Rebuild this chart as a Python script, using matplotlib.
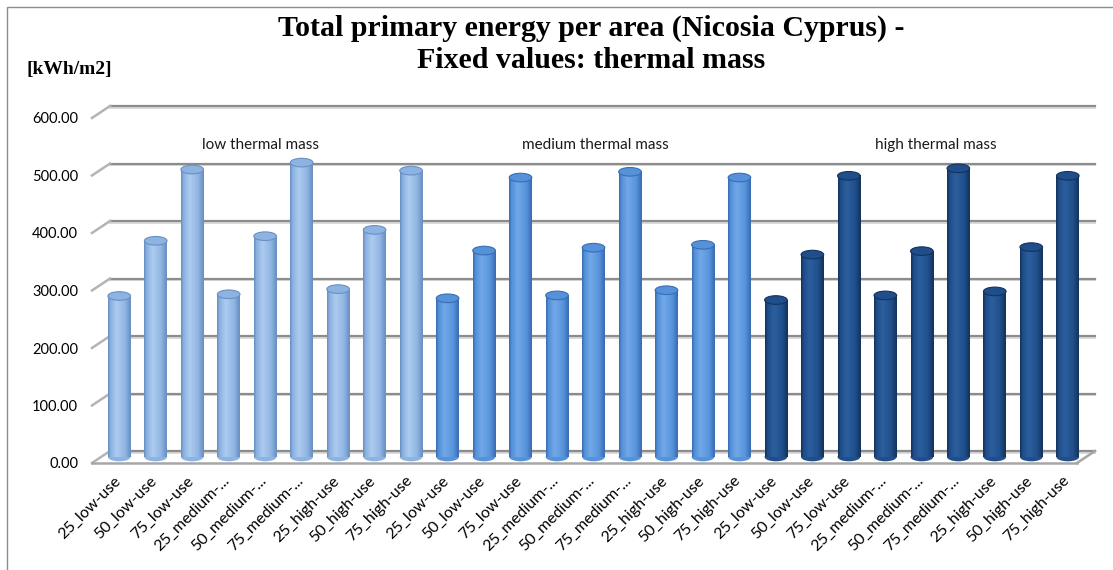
import matplotlib
matplotlib.use("Agg")
import matplotlib.pyplot as plt
import matplotlib.transforms as mtransforms
from matplotlib.patches import Ellipse, Rectangle
import numpy as np

# categories (same 9 cases repeated for each thermal mass level)
cases = ["25_low-use", "50_low-use", "75_low-use",
         "25_medium-...", "50_medium-...", "75_medium-...",
         "25_high-use", "50_high-use", "75_high-use"]
groups = ["low thermal mass", "medium thermal mass", "high thermal mass"]

# total primary energy per area [kWh/m2]
low_mass = [280, 376, 500, 283, 384, 512, 292, 395, 498]
medium_mass = [276, 359, 486, 281, 364, 496, 290, 369, 486]
high_mass = [273, 352, 489, 281, 358, 502, 288, 365, 489]

yticks = [0, 100, 200, 300, 400, 500, 600]

# cylinder colours: (edge shade, body, highlight)
group_colors = [("#6A90C2", "#8DB3E2", "#ADCBEF"),
                ("#3A6DB3", "#5592DA", "#72A8E8"),
                ("#14335C", "#1F4E8A", "#2C5F9F")]

fig = plt.figure(figsize=(11.13, 5.70), dpi=100)
ax = fig.add_axes([101 / 1113, 113 / 570, 985 / 1113, 345 / 570])
ax.set_xlim(-0.5, 26.5)
ax.set_ylim(0, 600)

# depth of the 3d box, half of it in front of / behind the bars (data units)
DX = 0.247
DY = 10.4

for s in ax.spines.values():
    s.set_visible(False)

# back wall grid + left side wall
for v in yticks:
    ax.plot([-0.5 + DX, 26.5 + DX], [v + DY - 2.6, v + DY - 2.6], color="#D9D9D9", lw=1.4, zorder=1, clip_on=False)
    ax.plot([-0.5 + DX, 26.5 + DX], [v + DY, v + DY], color="#8C8C8C", lw=1.6, zorder=1, clip_on=False)
    ax.plot([-0.5 - DX, -0.5 + DX], [v - DY, v + DY], color="#B4B4B4", lw=1.8, zorder=1, clip_on=False)

# floor
ax.plot([-0.5 - DX, 26.5 - DX], [-DY, -DY], color="#A6A6A6", lw=1.8, zorder=1, clip_on=False)
ax.plot([26.5 - DX, 26.5 + DX], [-DY, DY], color="#A6A6A6", lw=1.8, zorder=1, clip_on=False)

# cylinders
width = 0.62
eh = 15
t = np.linspace(0, 1, 40)
profile = np.interp(t, [0, 0.1, 0.38, 0.75, 0.92, 1], [0.0, 0.45, 1.0, 0.55, 0.15, 0.0])
for g, vals in enumerate([low_mass, medium_mass, high_mass]):
    dark, body, light = [np.array(matplotlib.colors.to_rgb(c)) for c in group_colors[g]]
    grad = np.empty((1, len(t), 3))
    for i, p in enumerate(profile):
        if p < 0.5:
            grad[0, i] = dark + (body - dark) * (p / 0.5)
        else:
            grad[0, i] = body + (light - body) * ((p - 0.5) / 0.5)
    for k, v in enumerate(vals):
        x = g * len(cases) + k
        ax.add_patch(Ellipse((x, 0), width, eh, facecolor=body, edgecolor="none", zorder=2, clip_on=False))
        ax.imshow(grad, extent=(x - width / 2, x + width / 2, 0, v), aspect="auto",
                  zorder=3, interpolation="bilinear", clip_on=False)
        ax.add_patch(Ellipse((x, v), width, eh, facecolor=body, edgecolor=dark, lw=0.8, zorder=4, clip_on=False))

ax.set_xlim(-0.5, 26.5)
ax.set_ylim(0, 600)

# group captions
for g, name in enumerate(groups):
    ax.text([3.86, 13.04, 22.39][g], 543, name, ha="center", va="center",
            fontsize=11, family="Lato", color="#1a1a1a")

# axis labels
ax.set_yticks(yticks)
ax.set_yticklabels([f"{v:.2f}" for v in yticks], family="Lato", fontsize=10.5)
ax.set_xticks(range(len(cases) * len(groups)))
ax.set_xticklabels(cases * len(groups), family="Lato", fontsize=11.5,
                   rotation=45, ha="right", rotation_mode="anchor")
ax.tick_params(axis="y", length=0, pad=16.5)
ax.tick_params(axis="x", length=0, pad=12)
shift_y = mtransforms.ScaledTranslation(0, -0.06, fig.dpi_scale_trans)
for lab in ax.get_yticklabels():
    lab.set_transform(lab.get_transform() + shift_y)
shift_x = mtransforms.ScaledTranslation(-0.06, 0, fig.dpi_scale_trans)
for lab in ax.get_xticklabels():
    lab.set_transform(lab.get_transform() + shift_x)

fig.text(0.531, 1 - 15 / 570, "Total primary energy per area (Nicosia Cyprus) -\nFixed values: thermal mass",
         ha="center", va="top", fontsize=21.5, fontweight="bold", family="Liberation Serif", linespacing=1.2)
fig.text(27 / 1113, 1 - 70 / 570, "[kWh/m2]", ha="left", va="center",
         fontsize=14, fontweight="bold", family="Liberation Serif")

# chart area frame
fig.patches.append(Rectangle((7 / 1113, -0.05), 1.2, 1 - 6.5 / 570 + 0.05, transform=fig.transFigure,
                             fill=False, edgecolor="#8C8C8C", lw=1))

fig.savefig("out.png", dpi=100)
